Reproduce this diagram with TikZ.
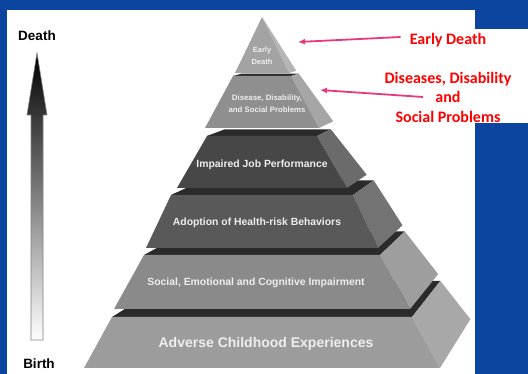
\documentclass[tikz,border=0pt]{standalone}
\usepackage{fontspec}
\setmainfont{Liberation Sans}
\newfontfamily\calfont{Carlito}
\usetikzlibrary{positioning,calc,arrows.meta}
\definecolor{slideblue}{HTML}{0B45A0}
\definecolor{pinkline}{HTML}{E8397F}
\definecolor{topface}{HTML}{2B2B2B}
\definecolor{layertext}{HTML}{EEEEEE}

\begin{document}
\begin{tikzpicture}[x=1pt, y=-1pt,
        layer text/.style={text=layertext, font=\bfseries\fontsize{10.4}{12}\selectfont, align=center, inner sep=0pt},
        red label/.style={text=red, font=\calfont\bfseries\fontsize{16}{19.5}\selectfont, align=center, inner sep=0pt},
        pointer/.style={draw=pinkline, line width=1.8pt, -{Latex[length=7pt,width=6pt]}},
        axis label/.style={font=\bfseries\fontsize{13.5}{15}\selectfont, inner sep=0pt}]

    % slide background
    \fill[slideblue] (0,0) rectangle (528,374);
    \fill[white] (7,10) rectangle (475,374);
    \fill[white] (475,29) rectangle (528,123);
    \useasboundingbox (0,0) rectangle (528,374);

    % vanishing point of the side and top faces
    \coordinate (V) at (700,-50);

    % layers, bottom first: top y / bottom y / top half width / bottom half width / front / side
    \foreach \yt/\yb/\wt/\wb/\cf/\cs in {317/368/150/178/39/34, 255/309/118/148/46/38,
            195/248/91/116/65/55, 136/188/55/85/72/58, 76/128/29/57/44/35, 17/73/0/27/36/29} {
        \pgfmathsetmacro\ft{0.00066*\wt}
        \pgfmathsetmacro\fb{0.00066*\wb}
        \coordinate (ftl) at (262-\wt,\yt);
        \coordinate (ftr) at (262+\wt,\yt);
        \coordinate (fbl) at (262-\wb,\yb);
        \coordinate (fbr) at (262+\wb,\yb);
        \coordinate (btl) at ($(ftl)!\ft!(V)$);
        \coordinate (btr) at ($(ftr)!\ft!(V)$);
        \coordinate (bbr) at ($(fbr)!\fb!(V)$);
        \fill[topface] (ftl) -- (ftr) -- (btr) -- (btl) -- cycle;
        \fill[black!\cs] (ftr) -- (fbr) -- (bbr) -- (btr) -- cycle;
        \fill[black!\cf] (fbl) -- (fbr) -- (ftr) -- (ftl) -- cycle;
    }

    % layer texts
    \node [layer text, font=\bfseries\fontsize{7.5}{12}\selectfont] (lEarly) at (262,56) {Early\\Death};
    \node [layer text, font=\bfseries\fontsize{7.8}{12}\selectfont] (lDisease) at (267,104) {Disease, Disability,\\and Social Problems};
    \node [layer text] (lJob) at (262,165) {Impaired Job Performance};
    \node [layer text] (lRisk) at (257,223) {Adoption of Health-risk Behaviors};
    \node [layer text] (lImpair) at (256,283) {Social, Emotional and Cognitive Impairment};
    \node [layer text, font=\bfseries\fontsize{14}{15}\selectfont] (lACE) at (266,344) {Adverse Childhood Experiences};

    % life line
    \node [axis label] (death) at (37,36) {Death};
    \node [axis label] (birth) at (39,364) {Birth};
    \shade[top color=black, bottom color=white, draw=gray, line width=0.6pt]
        (37,53) -- (47,115) -- (43,115) -- (43,340) -- (31,340) -- (31,115) -- (27,115) -- cycle;

    % red labels
    \node [red label] (rEarly) at (448,40) {Early Death};
    \node [red label] (rDisease) at (448,97) {Diseases, Disability\\and\\Social Problems};
    \coordinate (tipEarly) at (298,42);
    \coordinate (tipDisease) at (320,90);
    \coordinate (tailDisease) at (423,97);

    \path [pointer] ([xshift=-9pt,yshift=3pt]rEarly.west) -- (tipEarly);
    \path [pointer] (tailDisease) -- (tipDisease);
\end{tikzpicture}
\end{document}
